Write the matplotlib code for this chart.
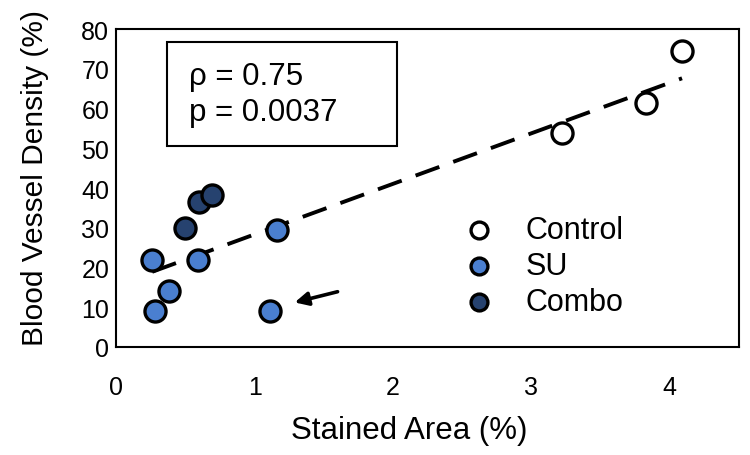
import matplotlib.pyplot as plt
import numpy as np

plt.rcParams['font.family'] = ['Liberation Sans', 'DejaVu Sans']

# stained area (%) vs blood vessel density (%)
control_x = [3.22, 3.83, 4.09]
control_y = [53.9, 61.3, 74.4]
su_x = [0.26, 0.28, 0.38, 0.59, 1.16, 1.11]
su_y = [21.8, 9.1, 14.2, 22.0, 29.4, 9.1]
combo_x = [0.50, 0.60, 0.69]
combo_y = [29.9, 36.5, 38.2]

stat_lines = ["\u03c1 = 0.75", "p = 0.0037"]

fig = plt.figure(figsize=(7.5, 4.56), dpi=100)
ax = fig.add_axes([0.155, 0.237, 0.830, 0.697])

# linear trend over all samples
all_x = np.array(control_x + su_x + combo_x)
all_y = np.array(control_y + su_y + combo_y)
k, d = np.polyfit(all_x, all_y, 1)
xl = np.array([all_x.min(), all_x.max()])
ax.plot(xl, k * xl + d, color='black', lw=2.8, ls=(0, (6.5, 3.8)), zorder=1)

kw = dict(s=230, edgecolors='black', linewidths=2.4, zorder=3)
ax.scatter(control_x, control_y, c='white', label='Control', **kw)
ax.scatter(su_x, su_y, c='#4a7fd0', label='SU', **kw)
ax.scatter(combo_x, combo_y, c='#26426f', label='Combo', **kw)

ax.annotate('', xy=(1.29, 11.2), xytext=(1.60, 13.9),
            arrowprops=dict(arrowstyle='-|>', color='black', lw=2.6,
                            mutation_scale=20, shrinkA=0, shrinkB=0))

# stats box
ax.add_patch(plt.Rectangle((0.082, 0.632), 0.369, 0.327, transform=ax.transAxes,
                           fc='white', ec='black', lw=1.5, zorder=2))
ax.text(0.117, 0.852, stat_lines[0], transform=ax.transAxes, fontsize=22.5,
        va='center', ha='left', zorder=4)
ax.text(0.117, 0.739, stat_lines[1], transform=ax.transAxes, fontsize=22.5,
        va='center', ha='left', zorder=4)

ax.set_xlim(0, 4.5)
ax.set_ylim(0, 80)
ax.set_xticks([0, 1, 2, 3, 4])
ax.set_yticks(range(0, 81, 10))
ax.tick_params(length=0, labelsize=18)
ax.tick_params(axis='x', pad=20)
ax.tick_params(axis='y', pad=5)
for s in ax.spines.values():
    s.set_linewidth(1.5)

ax.set_xlabel('Stained Area (%)', fontsize=22.5)
ax.set_ylabel('Blood Vessel Density (%)', fontsize=21.5)
ax.xaxis.set_label_coords(0.47, -0.215)
ax.yaxis.set_label_coords(-0.108, 0.535)

ax.legend(loc='center left', bbox_to_anchor=(0.49, 0.255), frameon=False,
          fontsize=22, handletextpad=0.5, labelspacing=0.2, scatterpoints=1,
          markerscale=0.8)

fig.savefig('out.png', dpi=100)
